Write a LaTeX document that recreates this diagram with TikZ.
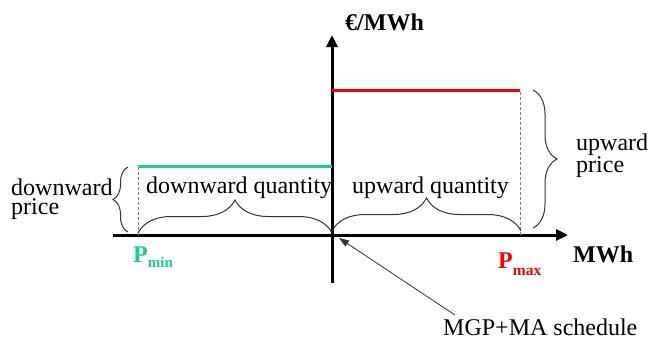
\documentclass[tikz,border=0pt]{standalone}
\usepackage{fontspec}
\setmainfont{Liberation Serif}
\usetikzlibrary{arrows.meta,decorations.pathreplacing}
\definecolor{downgreen}{RGB}{26,204,153}
\definecolor{upred}{RGB}{255,0,0}
\begin{document}
\begin{tikzpicture}[x=1pt,y=-1pt,
  axis/.style={line width=3pt,-{Triangle[length=12pt,width=11pt]}},
  level/.style={line width=3pt},
  guide/.style={draw=gray,line width=0.8pt,dash pattern=on 3pt off 2pt},
  bracket/.style={draw=black!80,line width=1pt,decorate,decoration={brace,amplitude=#1}},
  lbl/.style={inner sep=0pt,font=\fontsize{24}{19.5}\selectfont},
  bold/.style={lbl,font=\fontsize{24}{19.5}\selectfont\bfseries},
  pointer/.style={draw=black!80,line width=0.8pt,-{Triangle[length=10pt,width=7pt]}}
]
  \useasboundingbox (0,0) rectangle (652,341);

  % axes
  \coordinate (O) at (332,235);
  \coordinate (xstart) at (113,235);
  \coordinate (xend) at (568,235);
  \coordinate (ystart) at (332,283);
  \coordinate (yend) at (332,35);
  \draw[axis] (xstart) -- (xend);
  \draw[axis] (ystart) -- (yend);

  % price levels
  \coordinate (pmin) at (138,235);
  \coordinate (pmax) at (520,235);
  \coordinate (dtop) at (138,166);
  \coordinate (dend) at (332,166);
  \coordinate (utop) at (520,90);
  \coordinate (uend) at (332,90);
  \draw[guide] (pmin) -- (dtop);
  \draw[guide] (pmax) -- (utop);
  \draw[level,downgreen] (dtop) -- (dend);
  \draw[level,upred] (uend) -- (utop);

  % braces
  \draw[bracket=33] (138,233) -- (332,233);
  \draw[bracket=33] (332,231) -- (521,231);
  \draw[bracket=15] (128,232) -- (128,167);
  \draw[bracket=24] (533,90) -- (533,228);

  % labels
  \node[bold,anchor=base west] (ylab) at (345,30) {€/MWh};
  \node[bold,anchor=base west] (xlab) at (573,262) {MWh};
  \node[bold,anchor=base west,text=downgreen] (pminlab) at (133,262)
    {P\raisebox{-5pt}{\fontsize{15}{15}\selectfont min}};
  \node[bold,anchor=base west,text=upred] (pmaxlab) at (498,268)
    {P\raisebox{-7pt}{\fontsize{15.5}{15.5}\selectfont max}};
  \node[lbl,anchor=base west] (dq) at (146,193) {downward quantity};
  \node[lbl,anchor=base west] (uq) at (352,193) {upward quantity};
  \node[lbl,anchor=west,align=left] (dp) at (11,199) {downward\\price};
  \node[lbl,anchor=west,align=left] (up) at (576,156) {upward\\price};
  \node[lbl,anchor=base west] (sched) at (443,335) {MGP+MA schedule};

  % pointer to the schedule point
  \coordinate (tail) at (455,315);
  \coordinate (mark) at (339,238);
  \draw[pointer] (tail) -- (mark);
\end{tikzpicture}
\end{document}
